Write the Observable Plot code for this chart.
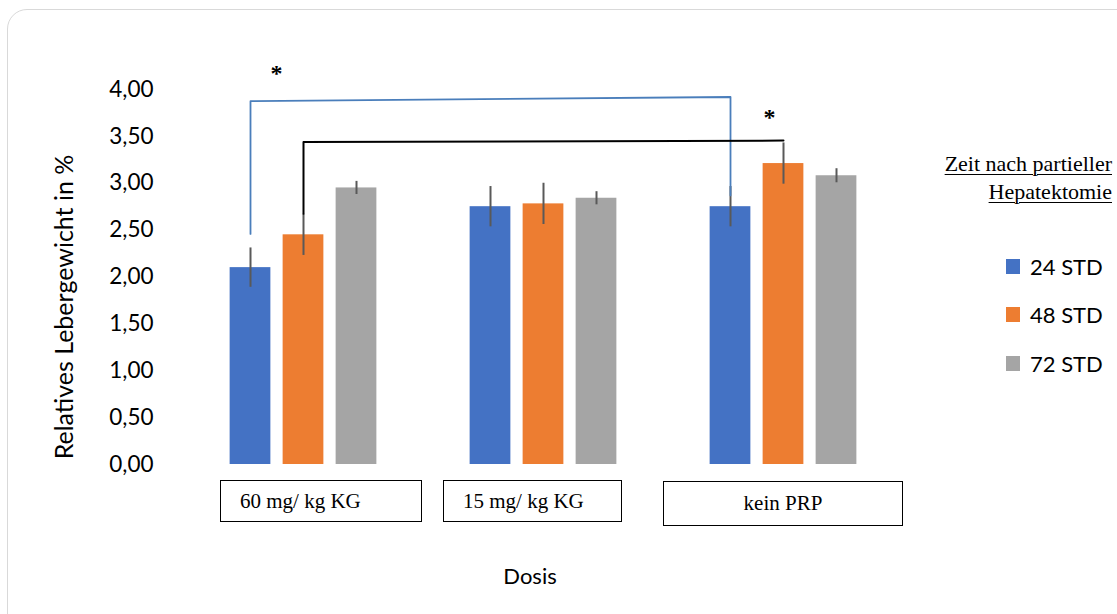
<!DOCTYPE html>
<html>
<head>
<meta charset="utf-8">
<script src="https://cdn.jsdelivr.net/npm/d3@7"></script>
<script src="https://cdn.jsdelivr.net/npm/@observablehq/plot@0.6"></script>
<style>
  html, body { margin: 0; padding: 0; background: #fff; }
  #wrap { position: relative; width: 1117px; height: 614px; overflow: hidden; background: #fff; }
  #frame { position: absolute; left: 7px; top: 9px; width: 1140px; height: 640px; border: 1.5px solid #d9d9d9; border-radius: 20px; box-sizing: border-box; }
  #chart { position: absolute; left: 0; top: 0; }
  .box { position: absolute; border: 1.5px solid #000; box-sizing: border-box; font-family: "Liberation Serif", "Times New Roman", serif; font-size: 21px; color: #000; display: flex; align-items: center; background: #fff; }
  #legendTitle { position: absolute; right: 5px; top: 150px; text-align: right; font-family: "Liberation Serif", "Times New Roman", serif; font-size: 22px; line-height: 28px; text-decoration: underline; text-decoration-thickness: 1px; text-underline-offset: 3px; color: #000; }
  .item { position: absolute; left: 1006px; font-family: Lato, sans-serif; font-size: 22px; color: #000; display: flex; align-items: center; height: 26px; }
  .sw { width: 14px; height: 15px; margin-right: 10px; }
</style>
</head>
<body>
<div id="wrap">
  <div id="frame"></div>
  <div id="chart"></div>
</div>
<script>
// ---- data ----
const doses = ["60 mg/ kg KG", "15 mg/ kg KG", "kein PRP"];
const series = ["24 STD", "48 STD", "72 STD"];
const colors = ["#4472C4", "#ED7D31", "#A5A5A5"];
const mean24 = [2.10, 2.75, 2.75];
const mean48 = [2.45, 2.78, 3.21];
const mean72 = [2.95, 2.84, 3.08];
const err24 = [0.21, 0.215, 0.215];
const err48 = [0.22, 0.22, 0.22];
const err72 = [0.07, 0.07, 0.075];
const yTicks = [0, 0.5, 1, 1.5, 2, 2.5, 3, 3.5, 4];
const yLabel = "Relatives Lebergewicht in %";
const xLabel = "Dosis";
const legendTitle = ["Zeit nach partieller", "Hepatektomie"];
// significance brackets (dose, y value)
const bracketBlueDose = [doses[0], doses[0], doses[2], doses[2]];
const bracketBlueY = [2.46, 3.875, 3.92, 2.87];
const bracketBlackDose = [doses[0], doses[0], doses[2]];
const bracketBlackY = [2.675, 3.44, 3.455];
const starDose = [doses[0], doses[2]];
const starY = [4.17, 3.7];

// ---- build tables ----
const means = [mean24, mean48, mean72];
const errs = [err24, err48, err72];
const rows = [];
series.forEach((s, i) => doses.forEach((d, j) => rows.push({series: s, dose: d, value: means[i][j], err: errs[i][j]})));
const blue = bracketBlueDose.map((d, i) => ({dose: d, y: bracketBlueY[i]}));
const black = bracketBlackDose.map((d, i) => ({dose: d, y: bracketBlackY[i]}));

// ---- layout ----
const W = 1117, H = 614;
const mL = 218, mR = 250, mT = 89, mB = 150;
const padInner = 0.3;
const step = (W - mL - mR) / (doses.length - padInner);
const bandW = step * (1 - padInner);
const barW = 41, barStep = 53;
const inset = (bandW - barW) / 2;
const offs = [-barStep, 0, barStep];

const marks = [];
series.forEach((s, i) => {
  const sub = rows.filter(r => r.series === s);
  marks.push(Plot.barY(sub, {x: "dose", y: "value", fill: "series", dx: offs[i], insetLeft: inset, insetRight: inset}));
});
series.forEach((s, i) => {
  const sub = rows.filter(r => r.series === s);
  marks.push(Plot.ruleX(sub, {x: "dose", y1: d => d.value - d.err, y2: d => d.value + d.err, dx: offs[i], stroke: "#595959", strokeWidth: 2}));
});
marks.push(Plot.line(blue, {x: "dose", y: "y", dx: offs[0], stroke: "#4a7ebb", strokeWidth: 1.8}));
marks.push(Plot.line(black, {x: "dose", y: "y", dx: offs[1], stroke: "#000", strokeWidth: 2}));
const starFont = {fontSize: 24, fontWeight: "bold", fontFamily: "Liberation Serif, serif", fill: "#000"};
marks.push(Plot.text([0], {x: () => starDose[0], y: () => starY[0], text: () => "*", dx: -27, ...starFont}));
marks.push(Plot.text([0], {x: () => starDose[1], y: () => starY[1], text: () => "*", dx: -14, ...starFont}));
marks.push(Plot.axisY({ticks: yTicks, tickFormat: d => d.toFixed(2).replace(".", ","), tickSize: 0, tickPadding: 65, fontSize: 22.5, label: null, fill: "#000"}));
marks.push(Plot.text([yLabel], {text: d => d, frameAnchor: "left", textAnchor: "middle", rotate: -90, dx: -154, dy: 30, fontSize: 25, fill: "#000"}));
marks.push(Plot.text([xLabel], {text: d => d, frameAnchor: "bottom", dx: -13, dy: 119, fontSize: 22, fill: "#000"}));

const plot = Plot.plot({
  width: W, height: H,
  marginLeft: mL, marginRight: mR, marginTop: mT, marginBottom: mB,
  style: {background: "transparent", fontFamily: "Lato, sans-serif"},
  x: {type: "band", domain: doses, paddingInner: padInner, paddingOuter: 0, axis: null},
  y: {domain: [0, 4], axis: null},
  color: {domain: series, range: colors},
  marks
});
document.getElementById("chart").appendChild(plot);

// ---- category boxes (x tick labels) ----
const boxes = [
  {left: 220, top: 480, w: 202, h: 42, align: "flex-start", pad: 19},
  {left: 443, top: 480, w: 179, h: 42, align: "flex-start", pad: 19},
  {left: 663, top: 481, w: 240, h: 45, align: "center", pad: 0}
];
const wrap = document.getElementById("wrap");
doses.forEach((d, i) => {
  const b = boxes[i];
  const el = document.createElement("div");
  el.className = "box";
  el.style.left = b.left + "px"; el.style.top = b.top + "px";
  el.style.width = b.w + "px"; el.style.height = b.h + "px";
  el.style.justifyContent = b.align; el.style.paddingLeft = b.pad + "px";
  el.textContent = d;
  wrap.appendChild(el);
});

// ---- legend ----
const lt = document.createElement("div");
lt.id = "legendTitle";
lt.innerHTML = legendTitle.join("<br>");
wrap.appendChild(lt);
series.forEach((s, i) => {
  const el = document.createElement("div");
  el.className = "item";
  el.style.top = (253 + i * 48.5) + "px";
  const sw = document.createElement("span");
  sw.className = "sw"; sw.style.background = colors[i];
  el.appendChild(sw);
  el.appendChild(document.createTextNode(s));
  wrap.appendChild(el);
});
</script>
</body>
</html>
